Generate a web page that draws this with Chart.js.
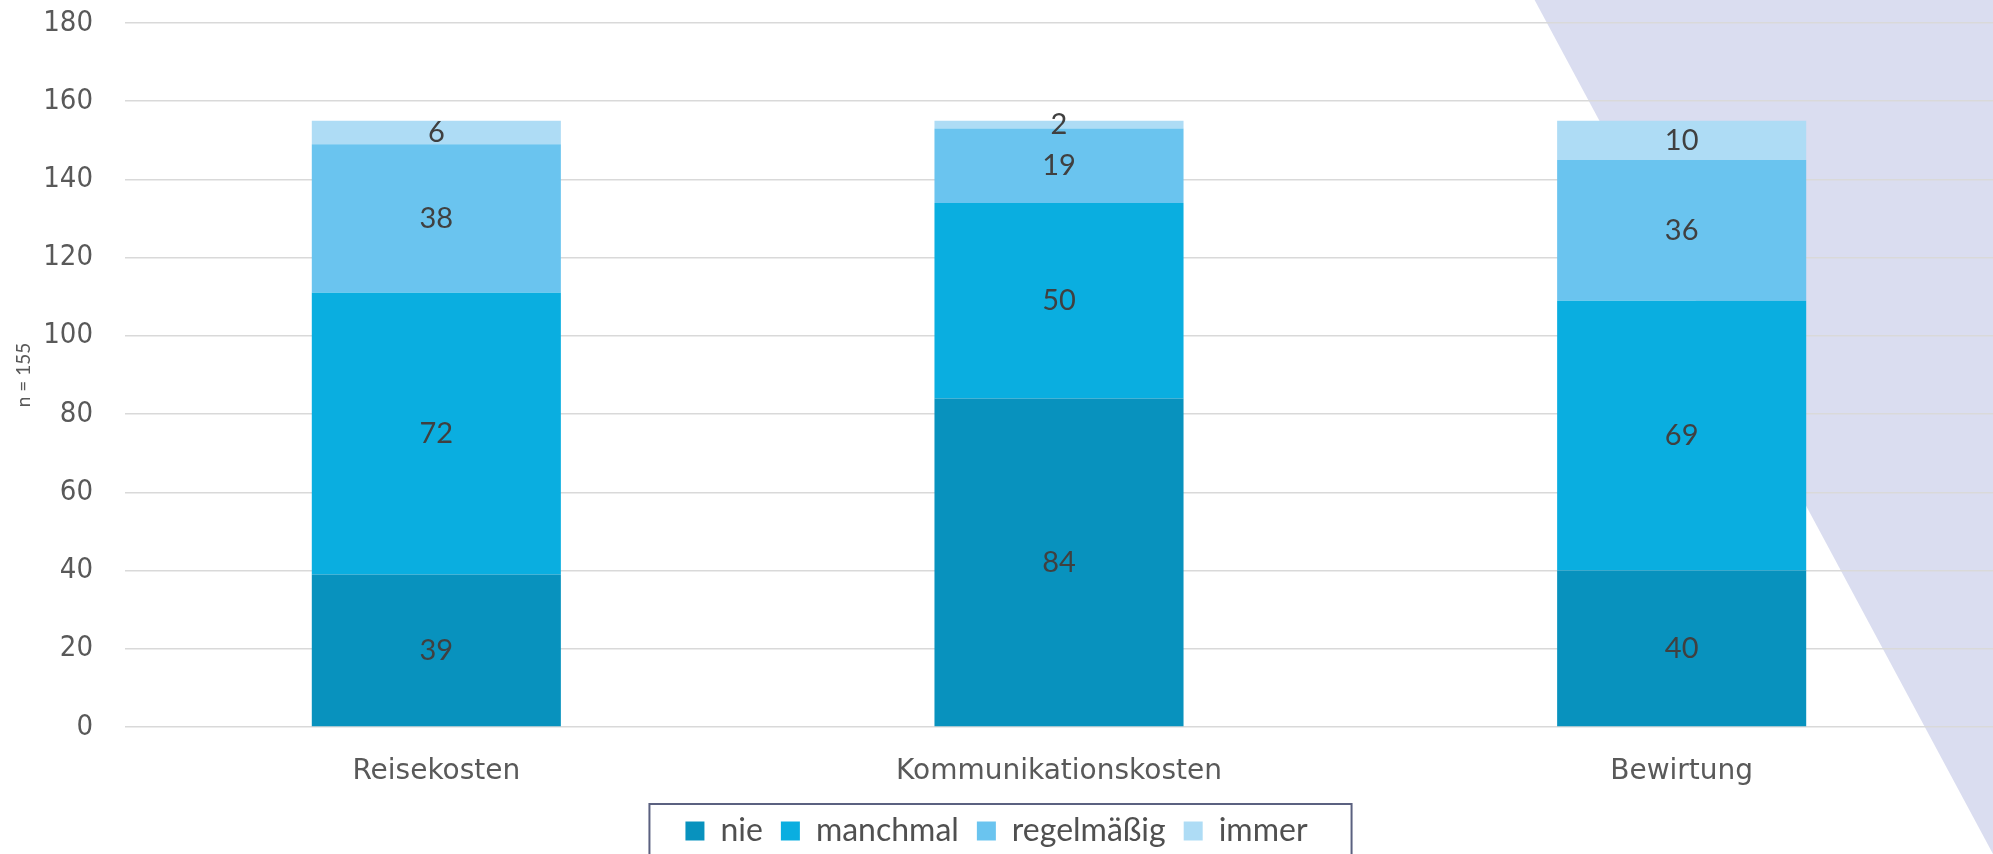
<!DOCTYPE html>
<html>
<head>
<meta charset="utf-8">
<script src="https://cdn.jsdelivr.net/npm/chart.js@4.4.1/dist/chart.umd.min.js"></script>
<style>
  html, body { margin: 0; padding: 0; background: #fff; }
  .chart-box { position: relative; width: 1993px; height: 854px; }
</style>
</head>
<body>
<div class="chart-box"><canvas class="js-chart"></canvas></div>
<script>
// ***** data
const categories = ['Reisekosten', 'Kommunikationskosten', 'Bewirtung'];
const nieValues = [39, 84, 40];
const manchmalValues = [72, 50, 69];
const regelmaessigValues = [38, 19, 36];
const immerValues = [6, 2, 10];
const yTicks = [0, 20, 40, 60, 80, 100, 120, 140, 160, 180];
const axisTitle = 'n = 155';

// ***** plugins
const backdrop = {
  id: 'backdrop',
  beforeDraw(chart) {
    const { ctx, width, height } = chart;
    ctx.save();
    ctx.fillStyle = '#DADDF0';
    ctx.beginPath();
    ctx.moveTo(width * 0.77, 0);
    ctx.lineTo(width, 0);
    ctx.lineTo(width, height);
    ctx.closePath();
    ctx.fill();
    ctx.restore();
  },
};

const barValues = {
  id: 'barValues',
  afterDatasetsDraw(chart) {
    const { ctx } = chart;
    ctx.save();
    ctx.font = '29px Lato';
    ctx.fillStyle = '#404040';
    ctx.textAlign = 'center';
    ctx.textBaseline = 'middle';
    chart.data.datasets.forEach((ds, i) => {
      chart.getDatasetMeta(i).data.forEach((bar, j) => {
        ctx.fillText(ds.data[j], bar.x, (bar.y + bar.base) / 2);
      });
    });
    ctx.restore();
  },
};

// рамка вокруг легенды
const legendFrame = {
  id: 'legendFrame',
  afterDraw(chart) {
    const boxes = chart.legend.legendHitBoxes;
    if (!boxes || !boxes.length) return;
    const left = Math.min(...boxes.map(b => b.left));
    const right = Math.max(...boxes.map(b => b.left + b.width));
    const mid = boxes[0].top + boxes[0].height / 2;
    const { ctx } = chart;
    ctx.save();
    ctx.strokeStyle = '#5B6180';
    ctx.lineWidth = 2;
    ctx.strokeRect(left - 36, mid - 27, right - left + 80, 80);
    ctx.restore();
  },
};

// *****
const ctx = document.querySelector('.js-chart').getContext('2d');

const chart = new Chart(ctx, {
  type: 'bar',
  data: {
    labels: categories,
    datasets: [
      { label: 'nie', data: nieValues, backgroundColor: '#0892BE' },
      { label: 'manchmal', data: manchmalValues, backgroundColor: '#0AAEE0' },
      { label: 'regelmäßig', data: regelmaessigValues, backgroundColor: '#6AC4EF' },
      { label: 'immer', data: immerValues, backgroundColor: '#AEDCF5' },
    ],
  },
  options: {
    responsive: true,
    maintainAspectRatio: false,
    animation: false,
    layout: {
      padding: { top: 23, left: 0, right: 0, bottom: -3 },
    },
    datasets: {
      bar: { barPercentage: 0.4, categoryPercentage: 1, borderWidth: 0 },
    },
    plugins: {
      tooltip: { enabled: false },
      legend: {
        display: true,
        position: 'bottom',
        labels: {
          boxWidth: 19,
          boxHeight: 19,
          padding: 18,
          color: '#505050',
          font: { family: 'Lato', size: 32 },
        },
      },
    },
    scales: {
      x: {
        stacked: true,
        grid: { display: false },
        border: { display: false },
        ticks: {
          color: '#595959',
          padding: 20,
          font: { family: 'DejaVu Sans', size: 28 },
        },
        afterFit(axis) {
          axis.height = 70;
        },
      },
      y: {
        stacked: true,
        min: yTicks[0],
        max: yTicks[yTicks.length - 1],
        afterBuildTicks(axis) {
          axis.ticks = yTicks.map(v => ({ value: v }));
        },
        afterFit(axis) {
          axis.width = 125;
          axis.paddingTop = 0;
          axis.paddingBottom = 0;
        },
        grid: { color: '#D9D9D9', lineWidth: 1.5, drawTicks: false },
        border: { display: false },
        title: {
          display: true,
          text: axisTitle,
          color: '#595959',
          padding: { top: 12, bottom: 0 },
          font: { family: 'Lato', size: 19 },
        },
        ticks: {
          color: '#595959',
          padding: 32,
          font: { family: "'DejaVu Sans Condensed', 'DejaVu Sans'", size: 29 },
        },
      },
    },
  },
  plugins: [backdrop, barValues, legendFrame],
});
</script>
</body>
</html>
